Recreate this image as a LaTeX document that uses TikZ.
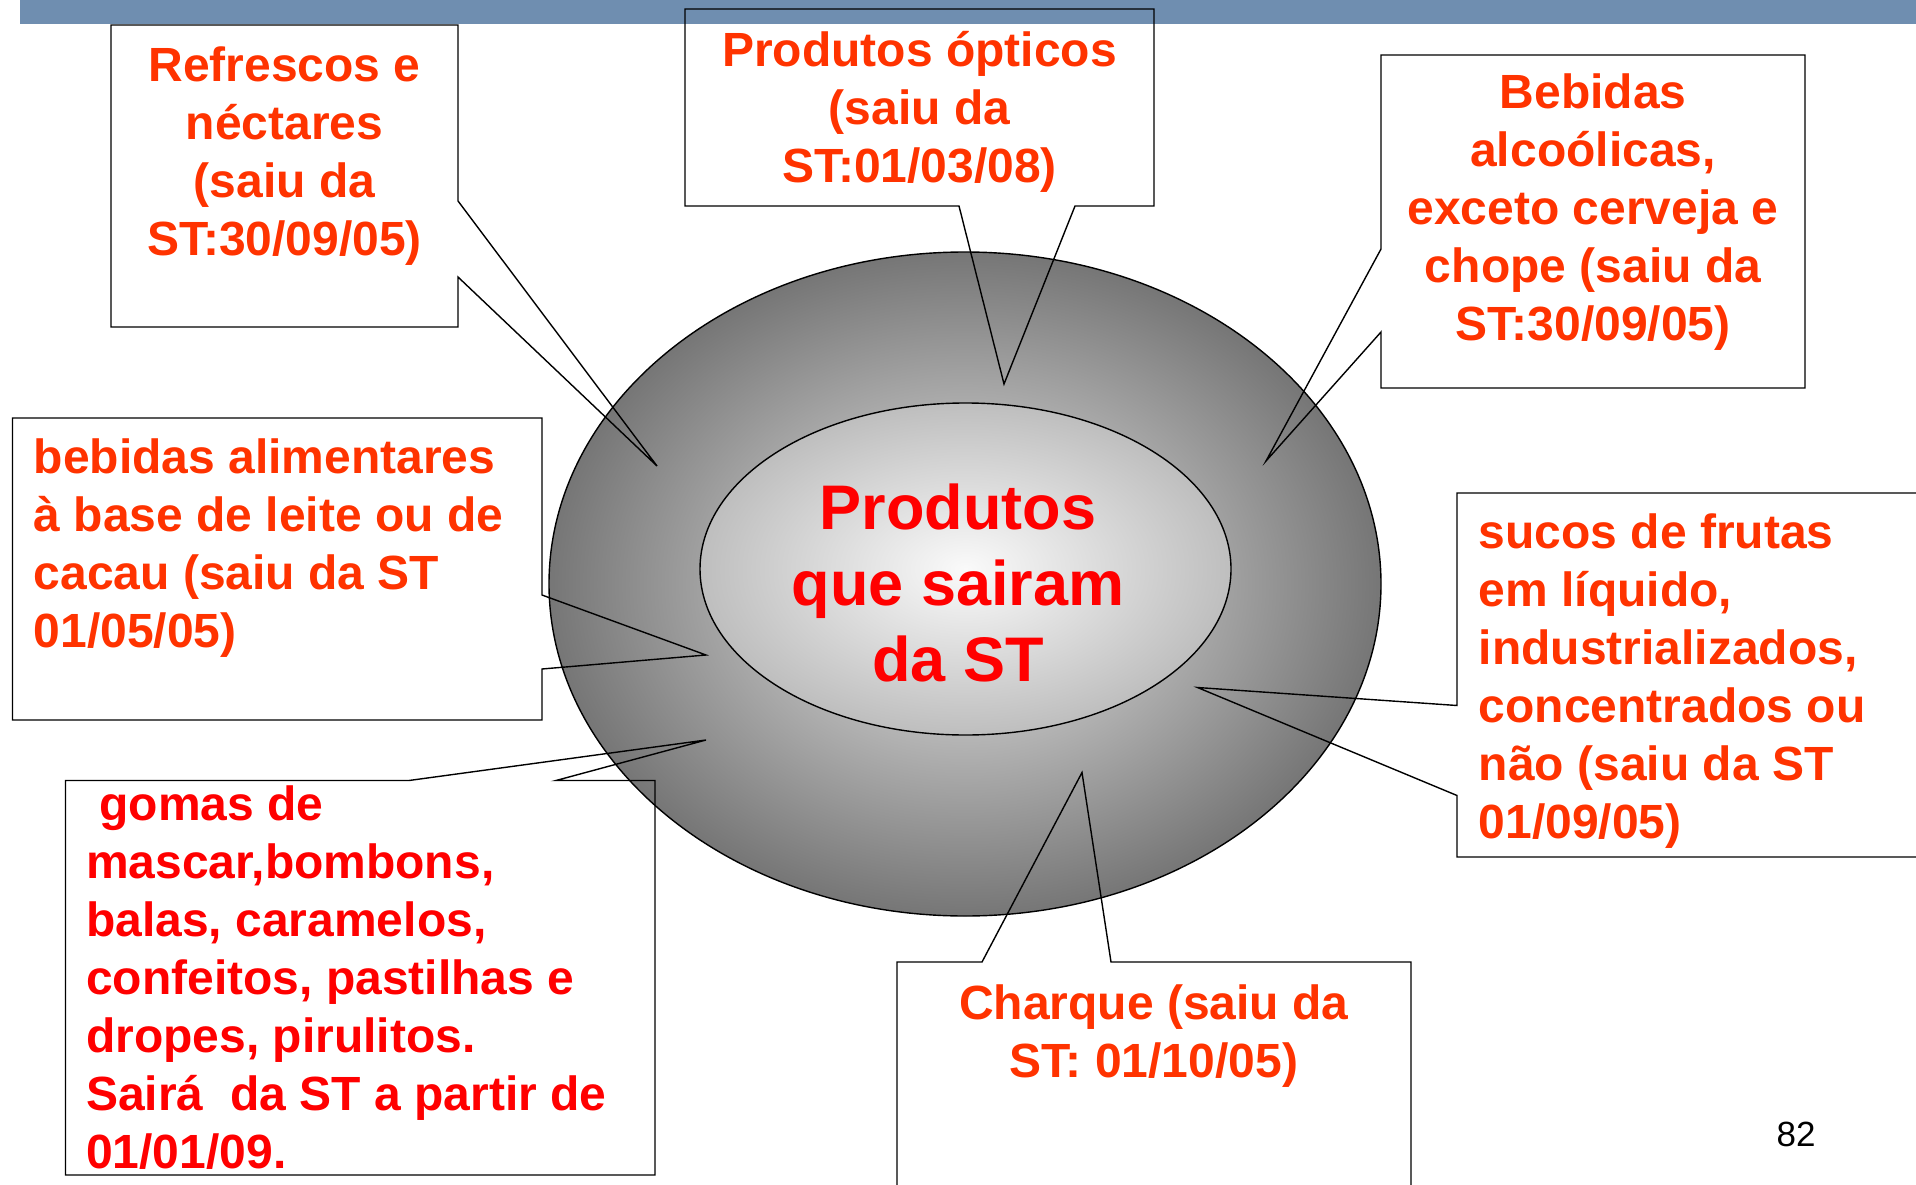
\documentclass[tikz,border=0pt]{standalone}
\usepackage{fontspec}
\setmainfont{Liberation Sans}
\usepackage{xcolor}
\usepackage{tikz}

\definecolor{barblue}{RGB}{111,142,176}
\definecolor{txtorange}{RGB}{255,51,0}
\definecolor{txtred}{RGB}{255,0,0}
\definecolor{ringdark}{RGB}{118,118,118}
\definecolor{ringlight}{RGB}{235,235,235}
\definecolor{corelight}{RGB}{250,250,250}
\definecolor{coredark}{RGB}{190,190,190}
\pgfdeclareradialshading{ringshade}{\pgfpoint{0bp}{0bp}}{color(0bp)=(ringlight); color(25bp)=(ringdark); color(50bp)=(ringdark)}
\pgfdeclareradialshading{coreshade}{\pgfpoint{0bp}{0bp}}{color(0bp)=(corelight); color(25bp)=(coredark); color(50bp)=(coredark)}

% text lines, baseline on the first line
\newcommand{\linesc}[1]{\begin{tabular}[t]{@{}c@{}}#1\end{tabular}}
\newcommand{\linesl}[1]{\begin{tabular}[t]{@{}l@{}}#1\end{tabular}}

\begin{document}
\begin{tikzpicture}[x=1pt, y=-1pt,
    calloutline/.style={draw=black, line width=1.4pt, line join=miter},
    boxtext/.style={inner sep=0pt, text=txtorange, font=\fontsize{48}{58}\selectfont\bfseries}]
    \useasboundingbox (0,0) rectangle (1916,1185);

    % title bar
    \fill[barblue] (20,0) rectangle (1916,24);

    % central ellipses
    \shadedraw[shading=ringshade, line width=1.4pt] (965,584) ellipse [x radius=416, y radius=332];
    \shadedraw[shading=coreshade, line width=1.4pt] (965.5,569) ellipse [x radius=265.5, y radius=166];
    \node[inner sep=0pt, text=txtred, font=\fontsize{63}{76}\selectfont\bfseries, anchor=base] (core) at (958,529) {\linesc{Produtos\\que sairam\\da ST}};

    % Refrescos e nectares
    \coordinate (refr tip) at (657,466);
    \draw[calloutline] (111,25) -- (458,25) -- (458,201) -- (refr tip) -- (458,277) -- (458,327) -- (111,327) -- cycle;
    \node[boxtext, anchor=base] (refr) at (284.5,82) {\linesc{Refrescos e\\néctares\\(saiu da\\ST:30/09/05)}};

    % Produtos opticos
    \coordinate (optic tip) at (1004,384);
    \draw[calloutline] (685,9) -- (1154,9) -- (1154,206) -- (1075,206) -- (optic tip) -- (959,206) -- (685,206) -- cycle;
    \node[boxtext, anchor=base] (optic) at (919.5,67) {\linesc{Produtos ópticos\\(saiu da\\ST:01/03/08)}};

    % Bebidas alcoolicas
    \coordinate (alcool tip) at (1266,461);
    \draw[calloutline] (1381,55) -- (1805,55) -- (1805,388) -- (1381,388) -- (1381,332) -- (alcool tip) -- (1381,249) -- cycle;
    \node[boxtext, anchor=base] (alcool) at (1593,109) {\linesc{Bebidas\\alcoólicas,\\exceto cerveja e\\chope (saiu da\\ST:30/09/05)}};

    % bebidas a base de leite
    \coordinate (leite tip) at (706,655);
    \draw[calloutline] (12.5,418) -- (542,418) -- (542,595) -- (leite tip) -- (542,669) -- (542,720) -- (12.5,720) -- cycle;
    \node[boxtext, anchor=base west] (leite) at (33.5,473) {\linesl{bebidas alimentares\\à base de leite ou de\\cacau (saiu da ST\\01/05/05)}};

    % gomas de mascar
    \coordinate (gomas tip) at (706,740);
    \draw[calloutline] (65.5,780.5) -- (409,780.5) -- (gomas tip) -- (556,780.5) -- (655,780.5) -- (655,1175) -- (65.5,1175) -- cycle;
    \node[boxtext, text=txtred, anchor=base west] (gomas) at (86,820) {\linesl{\hspace*{0.278em}gomas de\\mascar,bombons,\\balas, caramelos,\\confeitos, pastilhas e\\dropes, pirulitos.\\Sairá\ \ da ST a partir de\\01/01/09.}};

    % sucos de frutas
    \coordinate (sucos tip) at (1197.5,687.5);
    \draw[calloutline] (1925,493) -- (1457,493) -- (1457,705.5) -- (sucos tip) -- (1457,795.5) -- (1457,857) -- (1925,857);
    \node[boxtext, anchor=base west] (sucos) at (1478.5,548) {\linesl{sucos de frutas\\em líquido,\\industrializados,\\concentrados ou\\não (saiu da ST\\01/09/05)}};

    % Charque
    \coordinate (charque tip) at (1082,772.5);
    \draw[calloutline] (897,1195) -- (897,962) -- (982,962) -- (charque tip) -- (1111,962) -- (1411,962) -- (1411,1195);
    \node[boxtext, anchor=base] (charque) at (1154,1019) {\linesc{Charque (saiu da\\ST: 01/10/05)}};

    % page number
    \node[inner sep=0pt, anchor=base, font=\fontsize{35}{42}\selectfont] (pagenum) at (1796,1146) {82};
\end{tikzpicture}
\end{document}
